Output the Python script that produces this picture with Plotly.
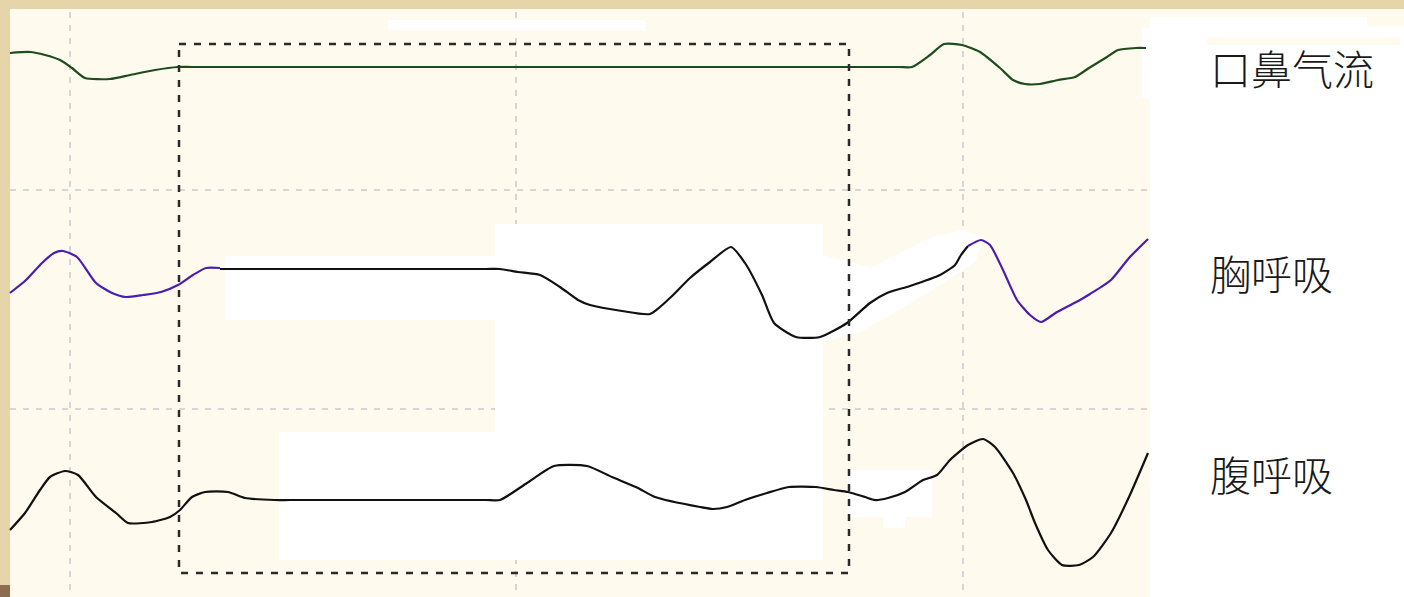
import plotly.graph_objects as go

# ---- data (time index, signal level) ----
airflow_t = [10, 30, 45, 60, 72, 85, 110, 130, 155, 178, 192, 898, 912, 930, 944, 962, 980, 1000, 1013,
             1025, 1040, 1058, 1075, 1089, 1107, 1118, 1136, 1146]
airflow_v = [53, 52, 55, 60, 68, 78, 79, 75, 70, 67, 67, 67, 67, 55, 44, 45, 52, 68, 80,
             84, 84, 80, 77, 68, 57, 50, 48, 48]

chest_a_t = [10, 26, 42, 54, 63, 77, 96, 112, 126, 143, 161, 178, 193, 206, 220]
chest_a_v = [293, 280, 263, 253, 251, 257, 283, 293, 297, 295, 292, 285, 275, 268, 268]

chest_b_t = [220, 234, 486, 500, 518, 540, 560, 578, 590, 622, 650, 670, 690, 710, 731, 745, 762, 774,
             796, 820, 847, 870, 887, 910, 940, 955, 961, 968]
chest_b_v = [269, 269, 269, 269, 272, 275, 287, 300, 305, 311, 314, 298, 278, 262, 247, 263, 295, 323,
             337, 337, 323, 303, 293, 286, 275, 265, 255, 246]

chest_c_t = [968, 981, 990, 1003, 1017, 1030, 1041, 1057, 1080, 1090, 1111, 1129, 1148]
chest_c_v = [246, 240, 245, 270, 300, 315, 322, 312, 300, 294, 280, 258, 239]

abd_t = [10, 25, 40, 50, 65, 78, 96, 116, 128, 152, 170, 180, 192, 205, 228, 245, 275, 290,
         486, 500, 527, 554, 587, 612, 638, 655, 700, 713, 727, 745, 767, 789, 816, 834, 848,
         865, 875, 888, 905, 923, 937, 950, 968, 983, 995, 1013, 1026, 1035, 1048, 1062,
         1079, 1093, 1111, 1129, 1148]
abd_v = [530, 513, 490, 477, 471, 475, 497, 513, 523, 522, 517, 510, 497, 492, 492, 498, 500, 500,
         500, 500, 483, 466, 466, 477, 488, 497, 507, 509, 507, 500, 493, 487, 487, 490, 492,
         497, 500, 498, 492, 480, 475, 460, 445, 439, 447, 473, 500, 523, 550, 565,
         565, 557, 533, 497, 453]

grid_x = [70, 516, 963]
grid_y = [190, 409]

labels = ["口鼻气流", "胸呼吸", "腹呼吸"]
label_y = [67, 272, 473]

# ---- styling ----
TAN = "#e6d5ab"
CREAM = "#fffaee"
WHITE = "#ffffff"
GREEN = "#1d4d1d"
PURPLE = "#4a1cb0"
BLACK = "#111111"

fig = go.Figure()

def add_line(t, v, color):
    fig.add_trace(go.Scatter(x=t, y=v, mode="lines",
                             line=dict(color=color, width=2.2, shape="spline", smoothing=0.6),
                             hoverinfo="skip", showlegend=False))

add_line(airflow_t, airflow_v, GREEN)
add_line(chest_a_t, chest_a_v, PURPLE)
add_line(chest_b_t, chest_b_v, BLACK)
add_line(chest_c_t, chest_c_v, PURPLE)
add_line(abd_t, abd_v, BLACK)

shapes = []
shapes.append(dict(type="rect", x0=10, x1=1404, y0=9, y1=597, fillcolor=CREAM,
                   line=dict(width=0), layer="below"))
shapes.append(dict(type="rect", x0=0, x1=10, y0=585, y1=597, fillcolor="#8c6d52",
                   line=dict(width=0), layer="below"))
for gx in grid_x:
    shapes.append(dict(type="line", x0=gx, x1=gx, y0=12, y1=597,
                       line=dict(color="#d6d6d6", width=2, dash="6px,7px"), layer="below"))
for gy in grid_y:
    shapes.append(dict(type="line", x0=10, x1=1150, y0=gy, y1=gy,
                       line=dict(color="#d6d6d6", width=2, dash="6px,7px"), layer="below"))
white_rects = [(388, 645, 20, 31), (225, 495, 256, 320), (495, 823, 224, 432),
               (279, 823, 432, 560), (847, 932, 470, 517), (883, 905, 517, 528),
               (1150, 1404, 17, 597), (1142, 1150, 28, 98)]
for x0, x1, y0, y1 in white_rects:
    shapes.append(dict(type="rect", x0=x0, x1=x1, y0=y0, y1=y1, fillcolor=WHITE,
                       line=dict(width=0), layer="below"))
shapes.append(dict(type="path",
                   path="M 823 255 L 870 268 L 930 238 L 962 230 L 985 238 L 975 262 "
                        "L 940 285 L 885 318 L 860 332 L 823 342 Z",
                   fillcolor=WHITE, line=dict(width=0), layer="below"))
for x0, x1, y0, y1 in [(1367, 1404, 9, 26), (1207, 1400, 38, 45)]:
    shapes.append(dict(type="rect", x0=x0, x1=x1, y0=y0, y1=y1, fillcolor=CREAM,
                       line=dict(width=0), layer="below"))
shapes.append(dict(type="rect", x0=179, x1=849, y0=44, y1=573,
                   line=dict(color="#2a2a2a", width=2.5, dash="7px,8px"), layer="above"))

annotations = []
for txt, ly in zip(labels, label_y):
    annotations.append(dict(x=1208, y=ly, text=txt, showarrow=False, xanchor="left",
                            yanchor="middle",
                            font=dict(family="Noto Sans CJK SC", size=41, weight=300,
                                      color="#1a1a1a")))

fig.update_layout(
    width=1404, height=597,
    margin=dict(l=0, r=0, t=0, b=0),
    paper_bgcolor=TAN, plot_bgcolor=TAN,
    xaxis=dict(range=[0, 1404], visible=False, fixedrange=True),
    yaxis=dict(range=[597, 0], visible=False, fixedrange=True),
    shapes=shapes, annotations=annotations,
)

fig.write_html("out.html", config={"displayModeBar": False},
               post_script="document.body.style.margin='0';document.body.style.overflow='hidden';")
